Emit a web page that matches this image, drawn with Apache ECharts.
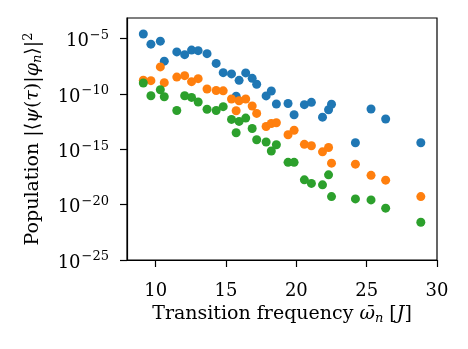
<!DOCTYPE html>
<html lang="en">
<head>
  <meta charset="UTF-8">
  <script src="https://cdn.jsdelivr.net/npm/echarts@6/dist/echarts.min.js"></script>
  <title>Population</title>
  <style>
    html, body { margin: 0; padding: 0; background: #fff; }
    #chart { width: 468px; height: 349px; }
  </style>
</head>
<body>
<div id="chart"></div>
<script>
  // transition frequencies, shared by the three series
  var freqs = [9.12, 9.66, 10.33, 10.61, 11.50, 12.06, 12.55, 13.02, 13.65, 14.30,
    14.80, 15.39, 15.72, 15.93, 16.40, 16.86, 17.18, 17.85, 18.22, 18.58,
    19.41, 19.84, 20.57, 21.07, 21.86, 22.29, 22.50, 24.20, 25.31, 26.35, 28.85];

  // log10 of the population
  var blueLog = [-4.59, -5.50, -5.23, -7.04, -6.20, -6.45, -6.04, -6.09, -6.36, -7.24,
    -8.08, -8.19, -10.20, -8.77, -8.10, -8.59, -9.12, -10.18, -9.73, -10.91,
    -10.86, -11.88, -10.97, -10.76, -12.10, -11.43, -10.93, -14.41, -11.36, -12.26, -14.41];
  var orangeLog = [-8.76, -8.80, -7.56, -8.98, -8.48, -8.35, -8.89, -8.62, -9.55, -9.69,
    -9.72, -10.46, -11.52, -10.61, -10.46, -11.09, -11.76, -12.94, -12.67, -12.60,
    -13.69, -13.28, -14.55, -14.68, -15.23, -14.84, -16.25, -16.34, -17.35, -17.79, -19.27];
  var greenLog = [-9.01, -10.16, -9.62, -10.25, -11.50, -10.16, -10.31, -10.73, -11.38, -11.50,
    -11.15, -12.30, -13.51, -12.48, -12.18, -13.12, -14.14, -14.34, -15.15, -14.59,
    -16.18, -16.18, -17.76, -18.08, -18.21, -17.31, -19.27, -19.48, -19.57, -20.32, -21.59];

  var xTicks = [10, 15, 20, 25, 30];
  var yTicks = [1e-25, 1e-20, 1e-15, 1e-10, 1e-5];

  var serif = '"DejaVu Serif", "Liberation Serif", serif';

  function pts(logs) {
    return freqs.map(function (x, i) { return [x, Math.pow(10, logs[i])]; });
  }

  function scatter(logs, color) {
    return {
      type: 'scatter',
      data: pts(logs),
      symbolSize: 9,
      itemStyle: { color: color, opacity: 1 },
      emphasis: { disabled: true }
    };
  }

  var chart = echarts.init(document.getElementById('chart'));
  chart.setOption({
    animation: false,
    grid: {
      left: 127, right: 31, top: 18, bottom: 89,
      show: true, borderColor: '#000', borderWidth: 1.2
    },
    xAxis: {
      type: 'value', min: 7.96, max: 30,
      name: 'Transition frequency {i|ω̄}{sub|n} [{i|J}]',
      nameLocation: 'middle', nameGap: 42,
      nameTextStyle: {
        fontFamily: serif, fontSize: 19, color: '#000',
        rich: {
          i: { fontFamily: serif, fontSize: 19, fontStyle: 'italic', color: '#000' },
          sub: { fontFamily: serif, fontSize: 13, fontStyle: 'italic', color: '#000', padding: [9, 0, 0, 0] }
        }
      },
      splitLine: { show: false },
      axisLine: { lineStyle: { color: '#000', width: 1.2 } },
      axisTick: { customValues: xTicks, length: 7, lineStyle: { color: '#000', width: 1.2 } },
      axisLabel: {
        customValues: xTicks, fontFamily: serif, fontSize: 18, color: '#000',
        margin: 8, padding: [14, 0, 0, 0]
      }
    },
    yAxis: {
      type: 'log', logBase: 10, min: 1e-25, max: Math.pow(10, -3.14),
      name: 'Population |⟨{i|ψ}({i|τ})|{i|φ}{sub|n}⟩|{sup|2}',
      nameLocation: 'middle', nameGap: 82, nameRotate: 90,
      nameTextStyle: {
        fontFamily: serif, fontSize: 19, color: '#000',
        rich: {
          i: { fontFamily: serif, fontSize: 19, fontStyle: 'italic', color: '#000' },
          sub: { fontFamily: serif, fontSize: 13, fontStyle: 'italic', color: '#000', padding: [9, 0, 0, 0] },
          sup: { fontFamily: serif, fontSize: 13, color: '#000', padding: [0, 0, 10, 0] }
        }
      },
      splitLine: { show: false },
      axisLine: { lineStyle: { color: '#000', width: 1.2 } },
      axisTick: { customValues: yTicks, length: 7, lineStyle: { color: '#000', width: 1.2 } },
      axisLabel: {
        customValues: yTicks, fontFamily: serif, fontSize: 18, color: '#000', margin: 18,
        formatter: function (v) {
          var e = Math.round(Math.log10(v));
          return '{b|10}{s|−' + Math.abs(e) + '}';
        },
        rich: {
          b: { fontFamily: serif, fontSize: 18, color: '#000', padding: [6, 0, 0, 0] },
          s: { fontFamily: serif, fontSize: 13, color: '#000', padding: [0, 0, 6, 1] }
        }
      }
    },
    series: [
      scatter(blueLog, '#1f77b4'),
      scatter(orangeLog, '#ff7f0e'),
      scatter(greenLog, '#2ca02c')
    ]
  });
</script>
</body>
</html>
